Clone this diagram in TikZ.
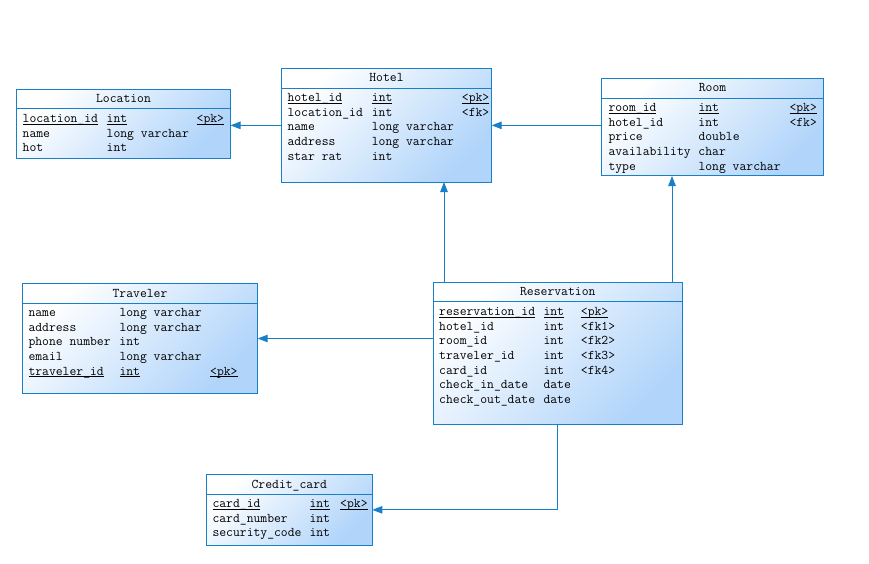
\documentclass[tikz,border=0pt]{standalone}
\usepackage{fontspec}
\usepackage{xcolor}
\usetikzlibrary{arrows.meta}
\definecolor{entline}{RGB}{24,128,200}
\definecolor{entfill}{RGB}{176,212,250}
\newcommand{\keyul}[1]{\underline{\smash{#1}}}

\begin{document}
\begin{tikzpicture}[x=1pt,y=-1pt,
    entity/.style={draw=entline, line width=1pt, top color=white, bottom color=entfill, shading angle=45, anchor=north west, inner sep=0pt, outer sep=0pt},
    sepline/.style={draw=entline, line width=1pt},
    title/.style={anchor=base, inner sep=0pt, font=\ttfamily\fontsize{13.3}{15}\selectfont},
    field/.style={anchor=base west, inner sep=0pt, font=\ttfamily\fontsize{13.3}{15}\selectfont},
    rel/.style={draw=entline, line width=1pt, -{Triangle[length=10pt,width=7.5pt]}}]
\useasboundingbox (0,0) rectangle (869,564);

% Location
\node[entity, minimum width=214pt, minimum height=69pt] (location) at (16.5,89.5) {};
\draw[sepline] ([yshift=-19pt]location.north west) -- ([yshift=-19pt]location.north east);
\node[title] (location-title) at ([yshift=-13.5pt]location.north) {Location};
\foreach \a/\b/\c [count=\i] in {\keyul{location\_id}/\keyul{int}/\keyul{<pk>}, name/long varchar/, hot/int/}
  \node[field] (location-\i) at ([xshift=6pt,yshift={-33pt-14.6pt*(\i-1)}]location.north west) {\makebox[84pt][l]{\a}\makebox[90pt][l]{\b}\c};

% Hotel
\node[entity, minimum width=210.4pt, minimum height=113.3pt] (hotel) at (281.3,68.7) {};
\draw[sepline] ([yshift=-20pt]hotel.north west) -- ([yshift=-20pt]hotel.north east);
\node[title] (hotel-title) at ([yshift=-13.3pt]hotel.north) {Hotel};
\foreach \a/\b/\c [count=\i] in {\keyul{hotel\_id}/\keyul{int}/\keyul{<pk>}, location\_id/int/<fk>, name/long varchar/, address/long varchar/, star rat/int/}
  \node[field] (hotel-\i) at ([xshift=6pt,yshift={-33pt-14.6pt*(\i-1)}]hotel.north west) {\makebox[84.4pt][l]{\a}\makebox[90pt][l]{\b}\c};

% Room
\node[entity, minimum width=222.4pt, minimum height=97.3pt] (room) at (601.3,78.7) {};
\draw[sepline] ([yshift=-20pt]room.north west) -- ([yshift=-20pt]room.north east);
\node[title] (room-title) at ([yshift=-13pt]room.north) {Room};
\foreach \a/\b/\c [count=\i] in {\keyul{room\_id}/\keyul{int}/\keyul{<pk>}, hotel\_id/int/<fk>, price/double/, availability/char/, type/long varchar/}
  \node[field] (room-\i) at ([xshift=7pt,yshift={-33pt-14.6pt*(\i-1)}]room.north west) {\makebox[90pt][l]{\a}\makebox[91pt][l]{\b}\c};

% Traveler
\node[entity, minimum width=235.4pt, minimum height=109.6pt] (traveler) at (22.3,283.7) {};
\draw[sepline] ([yshift=-20pt]traveler.north west) -- ([yshift=-20pt]traveler.north east);
\node[title] (traveler-title) at ([yshift=-13.6pt]traveler.north) {Traveler};
\foreach \a/\b/\c [count=\i] in {name/long varchar/, address/long varchar/, phone number/int/, email/long varchar/, \keyul{traveler\_id}/\keyul{int}/\keyul{<pk>}}
  \node[field] (traveler-\i) at ([xshift=6pt,yshift={-33pt-14.6pt*(\i-1)}]traveler.north west) {\makebox[91pt][l]{\a}\makebox[90.7pt][l]{\b}\c};

% Reservation
\node[entity, minimum width=249pt, minimum height=141.6pt] (reservation) at (433.3,282.7) {};
\draw[sepline] ([yshift=-18.3pt]reservation.north west) -- ([yshift=-18.3pt]reservation.north east);
\node[title] (reservation-title) at ([yshift=-12.5pt]reservation.north) {Reservation};
\foreach \a/\b/\c [count=\i] in {\keyul{reservation\_id}/\keyul{int}/\keyul{<pk>}, hotel\_id/int/<fk1>, room\_id/int/<fk2>, traveler\_id/int/<fk3>, card\_id/int/<fk4>, check\_in\_date/date/, check\_out\_date/date/}
  \node[field] (reservation-\i) at ([xshift=5.7pt,yshift={-33pt-14.6pt*(\i-1)}]reservation.north west) {\makebox[104.3pt][l]{\a}\makebox[37.4pt][l]{\b}\c};

% Credit_card
\node[entity, minimum width=166pt, minimum height=70.3pt] (credit) at (206.3,474.7) {};
\draw[sepline] ([yshift=-19.3pt]credit.north west) -- ([yshift=-19.3pt]credit.north east);
\node[title] (credit-title) at ([yshift=-13.6pt]credit.north) {Credit\_card};
\foreach \a/\b/\c [count=\i] in {\keyul{card\_id}/\keyul{int}/\keyul{<pk>}, card\_number/int/, security\_code/int/}
  \node[field] (credit-\i) at ([xshift=6pt,yshift={-33pt-14.6pt*(\i-1)}]credit.north west) {\makebox[97pt][l]{\a}\makebox[30.7pt][l]{\b}\c};

% relations
\draw[rel] (hotel.west) -- (hotel.west -| location.east);
\draw[rel] (room.west |- hotel.east) -- (hotel.east);
\draw[rel] ([xshift=10.7pt]reservation.north west) -- ([xshift=10.7pt]reservation.north west |- hotel.south);
\draw[rel] ([xshift=-10.3pt]reservation.north east) -- ([xshift=-10.3pt]reservation.north east |- room.south);
\draw[rel] (reservation.west |- traveler.east) -- (traveler.east);
\draw[rel] (reservation.south) |- (credit.east);

\end{tikzpicture}
\end{document}
